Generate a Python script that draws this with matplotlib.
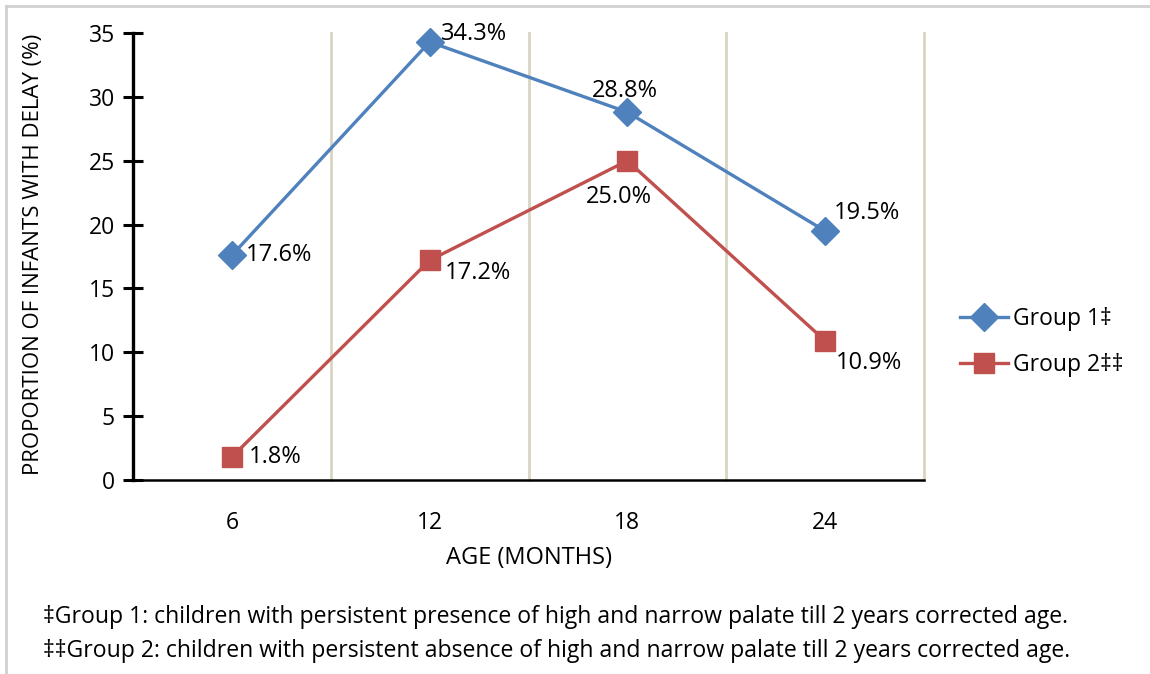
import numpy as np
import matplotlib.pyplot as plt
from matplotlib.lines import Line2D
from matplotlib import font_manager as fm

plt.rcParams['font.family'] = ['Open Sans', 'DejaVu Sans']

ages = ["6", "12", "18", "24"]
group1 = [17.6, 34.3, 28.8, 19.5]
group2 = [1.8, 17.2, 25.0, 10.9]
yticks = [0, 5, 10, 15, 20, 25, 30, 35]

notes = [
    "\u2021Group 1: children with persistent presence of high and narrow palate till 2 years corrected age.",
    "\u2021\u2021Group 2: children with persistent absence of high and narrow palate till 2 years corrected age.",
]

blue = "#4f81bd"
red = "#c0504d"
W, H = 1150, 674

fig = plt.figure(figsize=(11.5, 6.74), dpi=100)
ax = fig.add_axes([133 / W, 1 - 480 / H, (924 - 133) / W, (480 - 33) / H])

x = np.arange(len(ages))
ax.plot(x, group1, color=blue, lw=2.4, marker="D", ms=14, mec=blue, mfc=blue,
        label="Group 1\u2021", zorder=3, clip_on=False)
ax.plot(x, group2, color=red, lw=2.4, marker="s", ms=15, mec=red, mfc=red,
        label="Group 2\u2021\u2021", zorder=3, clip_on=False)

# value labels: (dx, dy) in points, horizontal alignment
off1 = [(10, 0, "left"), (8, 6, "left"), (-2, 15, "center"), (6.5, 13, "left")]
off2 = [(12, 0, "left"), (11, -9, "left"), (-6, -26, "center"), (8, -16, "left")]
for series, offs in [(group1, off1), (group2, off2)]:
    for xi, v, (dx, dy, ha) in zip(x, series, offs):
        ax.annotate(f"{v:.1f}%", (xi, v), xytext=(dx, dy), textcoords="offset points",
                    ha=ha, va="center", fontsize=17)

ax.set_xlim(-0.5, 3.5)
ax.set_ylim(0, 35)
ax.set_xticks(x)
ax.set_xticklabels(ages)
ax.set_yticks(yticks)
for gx in [0.5, 1.5, 2.5, 3.5]:
    ax.axvline(gx, color="#d9d5c3", lw=2, zorder=1, clip_on=False)

for s in ["top", "right"]:
    ax.spines[s].set_visible(False)
ax.spines["left"].set_linewidth(2.4)
ax.spines["bottom"].set_linewidth(1.8)
ax.tick_params(axis="y", direction="inout", length=14, width=2.2, labelsize=16.5, pad=6)
ax.tick_params(axis="x", length=0, labelsize=16.5, pad=22)

ax.set_xlabel("AGE (MONTHS)", fontsize=17)
ax.xaxis.set_label_coords(0.5, -(546 - 480) / 447)
ax.set_ylabel("PROPORTION OF INFANTS WITH DELAY (%)", fontsize=16)
ax.yaxis.set_label_coords(-(133 - 44) / 791, 0.505)

ax.legend(loc="center left", bbox_to_anchor=(939 / W, 1 - 342 / H),
          bbox_transform=fig.transFigure, frameon=False, fontsize=16.5,
          handlelength=2.1, labelspacing=1.0, handletextpad=0.25)

# footnotes: narrow face if present, sized to span the same width
avail = {f.name for f in fm.fontManager.ttflist}
note_font = "Liberation Sans Narrow" if "Liberation Sans Narrow" in avail else "Open Sans"
t1 = fig.text(43 / W, 1 - 617 / H, notes[0], fontsize=12.5, va="center", family=note_font)
t2 = fig.text(43 / W, 1 - 651 / H, notes[1], fontsize=12.5, va="center", family=note_font)
renderer = fig.canvas.get_renderer()
wpx = t1.get_window_extent(renderer).width
size = 12.5 * (1025 / wpx)
t1.set_fontsize(size)
t2.set_fontsize(size)

# thin frame on top and left edges
fig.add_artist(Line2D([6 / W, 1], [1 - 6 / H, 1 - 6 / H], color="#d0d0d0", lw=2,
                      transform=fig.transFigure))
fig.add_artist(Line2D([6 / W, 6 / W], [0, 1 - 6 / H], color="#d0d0d0", lw=2,
                      transform=fig.transFigure))

fig.savefig("out.png", dpi=100)
